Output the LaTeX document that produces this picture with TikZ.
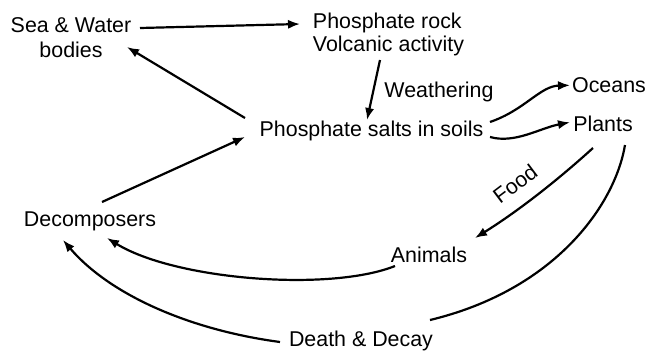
\documentclass[tikz,border=0pt]{standalone}
\usepackage{fontspec}
\setmainfont{Liberation Sans}
\usetikzlibrary{arrows.meta}
\begin{document}
\begin{tikzpicture}[x=0.5pt,y=-0.5pt,
  lbl/.style={inner sep=0pt,outer sep=0pt,font=\fontsize{10.7}{12.5}\selectfont},
  conn/.style={line width=1.1pt},
  arr/.style={conn,-{Latex[length=6pt,width=4.6pt]}}]
\useasboundingbox[fill=white] (0,0) rectangle (650,354);
% nodes
\node[lbl,align=center] (sea) at (71,38) {Sea \& Water\\bodies};
\node[lbl,align=left,anchor=west,font=\fontsize{10.7}{11.5}\selectfont] (rock) at (313,34) {Phosphate rock\\Volcanic activity};
\node[lbl] (weath) at (439,91.5) {Weathering};
\node[lbl] (soil) at (371.5,130.5) {Phosphate salts in soils};
\node[lbl] (oceans) at (609,85.3) {Oceans};
\node[lbl] (plants) at (603,124.3) {Plants};
\node[lbl,rotate=37] (food) at (515,184) {Food};
\node[lbl] (decomp) at (90,221.5) {Decomposers};
\node[lbl] (animals) at (429,255.3) {Animals};
\node[lbl] (death) at (361,340.5) {Death \& Decay};
% connectors
\draw[arr] ([shift={(69,-10)}]sea.center) -- ([shift={(-13,-10)}]rock.west);
\draw[arr] ([shift={(-126.5,-12.5)}]soil.center) -- ([shift={(56,9)}]sea.center);
\draw[arr] ([shift={(67,26)}]rock.west) -- ([shift={(-4.5,-10.5)}]soil.center);
\draw[arr] ([shift={(118.5,-8.5)}]soil.center) .. controls (525,110) and (540,86) .. ([shift={(-39,0)}]oceans.center);
\draw[arr] ([shift={(118.5,6.5)}]soil.center) .. controls (515,144) and (540,128) .. ([shift={(-33,-2)}]plants.center);
\draw[arr] ([shift={(-10,23.7)}]plants.center) .. controls (560,178) and (520,210) .. ([shift={(46,-17.3)}]animals.center);
\draw[conn] ([shift={(22,20.7)}]plants.center) .. controls (615,205) and (555,290) .. ([shift={(69,-20.5)}]death.center);
\draw[arr] ([shift={(-34,10.7)}]animals.center) .. controls (330,292) and (175,280) .. ([shift={(17,16.5)}]decomp.center);
\draw[arr] ([shift={(-81,1.5)}]death.center) .. controls (190,330) and (110,295) .. ([shift={(-27,18.5)}]decomp.center);
\draw[arr] ([shift={(12,-19.5)}]decomp.center) -- ([shift={(-126.5,6.5)}]soil.center);
\end{tikzpicture}
\end{document}
